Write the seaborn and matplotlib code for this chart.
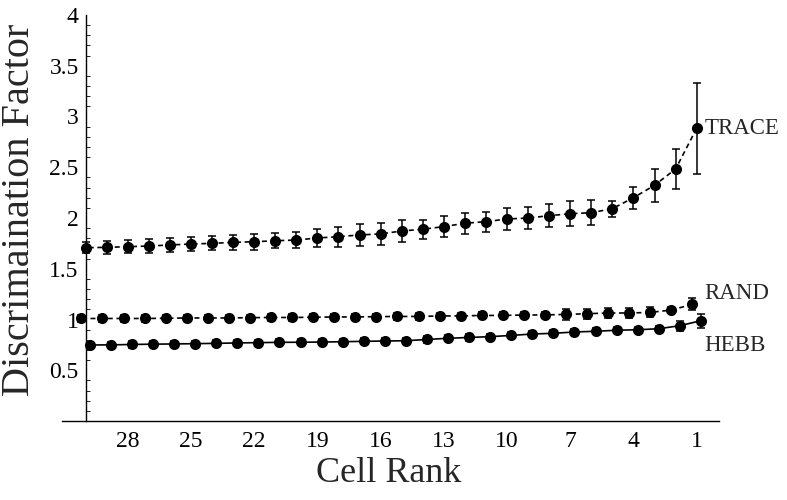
import numpy as np
import pandas as pd
import matplotlib
matplotlib.use("Agg")
import matplotlib.pyplot as plt
import seaborn as sns
from matplotlib.ticker import FixedLocator, MultipleLocator, FixedFormatter

# ---------------- data ----------------
ranks = list(range(30, 0, -1))

trace = [1.707, 1.711, 1.717, 1.724, 1.734, 1.744, 1.750, 1.760, 1.766, 1.776,
         1.783, 1.803, 1.816, 1.833, 1.843, 1.872, 1.889, 1.915, 1.948, 1.964,
         1.990, 2.000, 2.023, 2.042, 2.052, 2.092, 2.200, 2.322, 2.483, 2.884]
trace_err = [0.055, 0.065, 0.065, 0.065, 0.070, 0.070, 0.070, 0.075, 0.080, 0.075,
             0.080, 0.085, 0.100, 0.105, 0.105, 0.110, 0.095, 0.105, 0.105, 0.100,
             0.110, 0.110, 0.115, 0.125, 0.125, 0.080, 0.110, 0.160, 0.195, 0.450]

rand = [1.010, 1.010, 1.010, 1.010, 1.012, 1.015, 1.015, 1.015, 1.018, 1.020,
        1.020, 1.022, 1.025, 1.025, 1.028, 1.030, 1.030, 1.035, 1.035, 1.040,
        1.040, 1.044, 1.045, 1.050, 1.057, 1.064, 1.064, 1.070, 1.093, 1.150]
rand_err = [0.03] * 23 + [0.05, 0.05, 0.05, 0.05, 0.05, 0.03, 0.06]

hebb = [0.749, 0.750, 0.754, 0.757, 0.759, 0.762, 0.765, 0.769, 0.772, 0.775,
        0.776, 0.778, 0.781, 0.785, 0.788, 0.791, 0.803, 0.815, 0.823, 0.831,
        0.843, 0.857, 0.864, 0.877, 0.884, 0.894, 0.899, 0.909, 0.939, 0.988]
hebb_err = [0.03] * 28 + [0.05, 0.07]

series_names = ["TRACE", "RAND", "HEBB"]
x_ticks = [28, 25, 22, 19, 16, 13, 10, 7, 4, 1]
y_ticks = [0.5, 1, 1.5, 2, 2.5, 3, 3.5, 4]
y_tick_labels = ["0.5", "1", "1.5", "2", "2.5", "3", "3.5", "4"]

# ---------------- styling ----------------
sns.set_theme(style="white")
plt.rcParams['font.family'] = ['Liberation Serif', 'DejaVu Serif']

values = {"TRACE": trace, "RAND": rand, "HEBB": hebb}
errors = {"TRACE": trace_err, "RAND": rand_err, "HEBB": hebb_err}
shift = {"TRACE": 0.0, "RAND": 0.2, "HEBB": -0.2}   # small horizontal dodge

rows = []
for name in series_names:
    for r, v, e in zip(ranks, values[name], errors[name]):
        rows.append({"series": name, "x": r + shift[name], "y": v, "err": e})
df = pd.DataFrame(rows)

fig = plt.figure(figsize=(7.87, 5.0), dpi=100)
ax = fig.add_axes([62 / 787, 79 / 500, (718.6 - 62) / 787, (421 - 15) / 500])

sns.lineplot(data=df, x="x", y="y", hue="series", style="series",
             hue_order=series_names, style_order=series_names,
             palette={n: "black" for n in series_names},
             dashes={"TRACE": (3, 2.2), "RAND": (3, 2.2), "HEBB": ""},
             markers={n: "o" for n in series_names},
             markersize=8, markeredgewidth=0, linewidth=1.2,
             legend=False, ax=ax, errorbar=None)

for name in series_names:
    sub = df[df.series == name]
    ax.errorbar(sub.x, sub.y, yerr=sub.err, fmt="none", ecolor="black",
                elinewidth=1.1, capsize=2.6, capthick=1.1, zorder=1)

ax.set_xlim(31.12, -0.04)
ax.set_ylim(0, 4)

for s in ["top", "right"]:
    ax.spines[s].set_visible(False)
ax.spines["left"].set_position(("data", 30))
for s in ["left", "bottom"]:
    ax.spines[s].set_color("black")
    ax.spines[s].set_linewidth(1.0)

ax.xaxis.set_major_locator(FixedLocator(x_ticks))
ax.set_xticklabels([str(t) for t in x_ticks])
ax.yaxis.set_major_locator(FixedLocator(y_ticks))
ax.yaxis.set_major_formatter(FixedFormatter(y_tick_labels))
ax.yaxis.set_minor_locator(MultipleLocator(0.1))

ax.tick_params(axis="both", which="major", direction="in", length=5, width=0.8,
               color="black", labelcolor="black", labelsize=17)
ax.tick_params(axis="x", which="major", pad=7)
ax.tick_params(axis="y", which="major", pad=5)
ax.tick_params(axis="y", which="minor", direction="in", length=3, width=0.6,
               color="black", left=True)

ax.set_xlabel("Cell Rank", fontsize=26, va="center")
ax.xaxis.set_label_coords((389 - 62) / 656.6, (421 - 473) / 406)
ax.set_ylabel("Discrimaination Factor", fontsize=29, va="center")
ax.yaxis.set_label_coords((20 - 62) / 656.6, (421 - 210) / 406)

ax.annotate("TRACE", xy=(1, trace[-1]), xytext=(5.5, 0), textcoords="offset points",
            ha="left", va="center", fontsize=16.5)
ax.annotate("RAND", xy=(1 + shift["RAND"], rand[-1]), xytext=(8.5, 8),
            textcoords="offset points", ha="left", va="center", fontsize=16.5)
ax.annotate("HEBB", xy=(1 + shift["HEBB"], hebb[-1]), xytext=(2.5, -17.5),
            textcoords="offset points", ha="left", va="center", fontsize=16.5)

fig.savefig("out.png", dpi=100, facecolor="white")
